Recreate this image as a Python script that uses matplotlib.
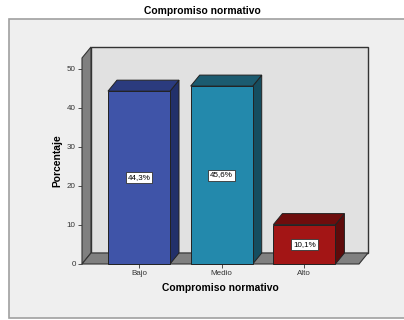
import matplotlib
matplotlib.use("Agg")
import matplotlib.pyplot as plt
from matplotlib.patches import Rectangle, Polygon

categories = ["Bajo", "Medio", "Alto"]
values = [44.3, 45.6, 10.1]
labels = ["44,3%", "45,6%", "10,1%"]
yticks = [0, 10, 20, 30, 40, 50]

face_colors = ["#3f54a8", "#2389ac", "#a31515"]
top_colors = ["#2b3b7e", "#1b5b70", "#6e0d0d"]
side_colors = ["#22306a", "#154d5f", "#5e0b0b"]

plt.rcParams['font.family'] = ['Liberation Sans', 'DejaVu Sans']

W, H = 404, 320
fig = plt.figure(figsize=(W / 100, H / 100), dpi=100)
fig.patch.set_facecolor("white")

# outer frame
frame = Rectangle((9 / W, 1 - 318 / H), (W + 5 - 9) / W, (318 - 19) / H,
                  transform=fig.transFigure, facecolor="#efefef",
                  edgecolor="#a0a0a0", linewidth=1.2, zorder=-10)
fig.patches.append(frame)

fig.text(0.5, 1 - 11 / H, "Compromiso normativo", ha="center", va="center",
         fontsize=7.4, fontweight="bold")

left_px, right_px, bot_px, top_px = 82, 359, 264, 58
ax = fig.add_axes([left_px / W, 1 - bot_px / H, (right_px - left_px) / W,
                   (bot_px - top_px) / H])
ax.set_zorder(1)
x0, x1 = -0.689, 2.66
ymax = 52.8
ax.set_xlim(x0, x1)
ax.set_ylim(0, ymax)
ax.patch.set_visible(False)
for s in ax.spines.values():
    s.set_visible(False)

ddx = 9 / 82.75
ddy = 11 / 3.9
edge = "#222222"

# back wall
ax.add_patch(Rectangle((x0 + ddx, ddy), x1 - x0, ymax, facecolor="#e1e1e1",
                       edgecolor="#333333", linewidth=1.0, clip_on=False, zorder=1))
# left wall
ax.add_patch(Polygon([(x0, 0), (x0 + ddx, ddy), (x0 + ddx, ymax + ddy), (x0, ymax)],
                     closed=True, facecolor="#808080", edgecolor="#333333",
                     linewidth=0.8, clip_on=False, zorder=2))
# floor
ax.add_patch(Polygon([(x0, 0), (x1, 0), (x1 + ddx, ddy), (x0 + ddx, ddy)],
                     closed=True, facecolor="#808080", edgecolor="#333333",
                     linewidth=0.8, clip_on=False, zorder=2))

bw = 0.75
for i, (v, lab) in enumerate(zip(values, labels)):
    a, b = i - bw / 2, i + bw / 2
    ax.add_patch(Polygon([(b, 0), (b + ddx, ddy), (b + ddx, v + ddy), (b, v)],
                         closed=True, facecolor=side_colors[i], edgecolor=edge,
                         linewidth=0.7, clip_on=False, zorder=3))
    ax.add_patch(Polygon([(a, v), (b, v), (b + ddx, v + ddy), (a + ddx, v + ddy)],
                         closed=True, facecolor=top_colors[i], edgecolor=edge,
                         linewidth=0.7, clip_on=False, zorder=3))
    ax.add_patch(Rectangle((a, 0), bw, v, facecolor=face_colors[i], edgecolor=edge,
                           linewidth=0.7, clip_on=False, zorder=4))
    ax.text(i, v / 2, lab, ha="center", va="center", fontsize=5.8, zorder=5,
            bbox=dict(boxstyle="square,pad=0.25", facecolor="white",
                      edgecolor="#333333", linewidth=0.6))

ax.set_xticks(range(len(categories)))
ax.set_xticklabels(categories, fontsize=5.8, color="#333333")
ax.set_yticks(yticks)
ax.set_yticklabels([str(t) for t in yticks], fontsize=5.8, color="#333333")
ax.tick_params(axis="both", length=3, width=0.6, color="#333333", pad=1.5)

ax.set_xlabel("Compromiso normativo", fontsize=7.4, fontweight="bold", labelpad=4)
ax.set_ylabel("Porcentaje", fontsize=7.4, fontweight="bold", labelpad=3)

fig.savefig("out.png", dpi=100)
